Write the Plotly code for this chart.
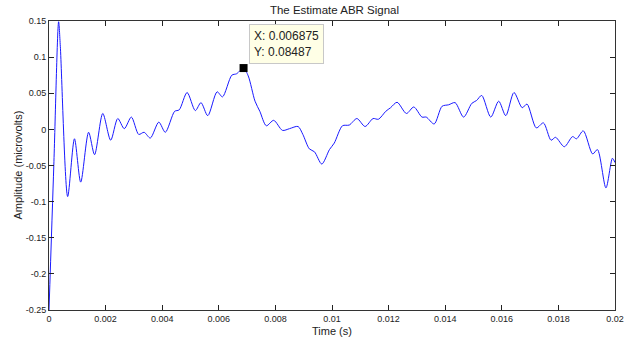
import plotly.graph_objects as go

# Signal samples (time in s, amplitude in microvolts)
time_s = [0.00000, 0.00017, 0.00034, 0.00040, 0.00066, 0.00090, 0.00112, 0.00140,
          0.00161, 0.00190, 0.00218, 0.00243, 0.00266, 0.00291, 0.00317, 0.00336,
          0.00358, 0.00388, 0.00411, 0.00444, 0.00460, 0.00488, 0.00517, 0.00537,
          0.00561, 0.00594, 0.00613, 0.00646, 0.00663, 0.006875, 0.00704, 0.00728,
          0.00745, 0.00768, 0.00794, 0.00825, 0.00850, 0.00880, 0.00897, 0.00920,
          0.00938, 0.00964, 0.00991, 0.01008, 0.01037, 0.01061, 0.01088, 0.01117,
          0.01145, 0.01164, 0.01190, 0.01207, 0.01230, 0.01263, 0.01289, 0.01318,
          0.01333, 0.01361, 0.01389, 0.01412, 0.01435, 0.01465, 0.01494, 0.01511,
          0.01529, 0.01561, 0.01589, 0.01614, 0.01643, 0.01672, 0.01689, 0.01722,
          0.01747, 0.01774, 0.01790, 0.01821, 0.01850, 0.01864, 0.01888, 0.01921,
          0.01938, 0.01968, 0.01991, 0.02000]
amplitude = [-0.250, -0.050, 0.149, 0.115, -0.093, -0.013, -0.073, -0.004,
             -0.035, 0.022, -0.015, 0.015, 0.001, 0.017, -0.007, -0.004,
             -0.012, 0.010, -0.004, 0.025, 0.027, 0.051, 0.026, 0.037,
             0.019, 0.052, 0.045, 0.075, 0.077, 0.08487, 0.074, 0.039,
             0.025, 0.005, 0.0125, -0.0014, 0.001, 0.004, -0.007, -0.027,
             -0.031, -0.048, -0.028, -0.019, 0.005, 0.006, 0.015, 0.004,
             0.015, 0.014, 0.025, 0.030, 0.0375, 0.022, 0.031, 0.017,
             0.017, 0.0075, 0.032, 0.034, 0.037, 0.017, 0.036, 0.040,
             0.047, 0.017, 0.039, 0.019, 0.051, 0.030, 0.035, 0.002,
             0.009, -0.015, -0.011, -0.024, -0.010, -0.013, -0.002, -0.034,
             -0.028, -0.081, -0.040, -0.046]

# Data tip
tip_x = [0.006875]
tip_y = [0.08487]

# Tick labels
x_tickvals = [0, 0.002, 0.004, 0.006, 0.008, 0.01, 0.012, 0.014, 0.016, 0.018, 0.02]
x_ticktext = ["0", "0.002", "0.004", "0.006", "0.008", "0.01", "0.012", "0.014", "0.016", "0.018", "0.02"]
y_tickvals = [0.15, 0.1, 0.05, 0, -0.05, -0.1, -0.15, -0.2, -0.25]
y_ticktext = ["0.15", "0.1", "0.05", "0", "-0.05", "-0.1", "-0.15", "-0.2", "-0.25"]

FONT = "Liberation Sans, Arial, Helvetica, sans-serif"

fig = go.Figure()
fig.add_trace(go.Scatter(
    x=time_s, y=amplitude, mode="lines",
    line=dict(color="#1a1aff", width=1, shape="spline", smoothing=0.8),
    hoverinfo="skip", showlegend=False,
))
fig.add_trace(go.Scatter(
    x=tip_x, y=tip_y, mode="markers",
    marker=dict(symbol="square", size=8, color="black", line=dict(color="black", width=0)),
    hoverinfo="skip", showlegend=False,
))

axis_common = dict(
    showgrid=False, zeroline=False, showline=True, linecolor="#333333", linewidth=1,
    mirror="allticks", ticks="inside", ticklen=5, tickcolor="#222222", tickwidth=1,
    tickfont=dict(family=FONT, size=9, color="#222222"),
)

fig.update_layout(
    width=636, height=339,
    margin=dict(l=49, r=16, t=21, b=29),
    paper_bgcolor="white", plot_bgcolor="white",
    font=dict(family=FONT, color="#222222"),
    title=dict(text="The Estimate ABR Signal", x=334.5 / 636, xref="container",
               xanchor="center", y=1 - 10 / 339, yref="container", yanchor="middle",
               font=dict(family=FONT, size=11.5, color="#222222")),
    xaxis=dict(range=[0, 0.02], tickvals=x_tickvals, ticktext=x_ticktext, **axis_common),
    yaxis=dict(range=[-0.25, 0.15], tickvals=y_tickvals, ticktext=y_ticktext, **axis_common),
    annotations=[
        dict(text="Time (s)", x=0.5, y=0, xref="paper", yref="paper",
             xanchor="center", yanchor="middle", yshift=-21, showarrow=False,
             font=dict(family=FONT, size=11, color="#222222")),
        dict(text="Amplitude (microvolts)", x=0, y=0.5, xref="paper", yref="paper",
             xanchor="center", yanchor="middle", xshift=-32, textangle=-90, showarrow=False,
             font=dict(family=FONT, size=11, color="#222222")),
        dict(text="X: 0.006875<br>Y: 0.08487", x=tip_x[0], y=tip_y[0], xref="x", yref="y",
             xanchor="left", yanchor="bottom", xshift=5, yshift=4, showarrow=False, align="left",
             bgcolor="#ffffe6", bordercolor="#c8c8c8", borderwidth=1, borderpad=4,
             font=dict(family=FONT, size=12, color="#222222")),
    ],
)

fig.write_html("out.html")
